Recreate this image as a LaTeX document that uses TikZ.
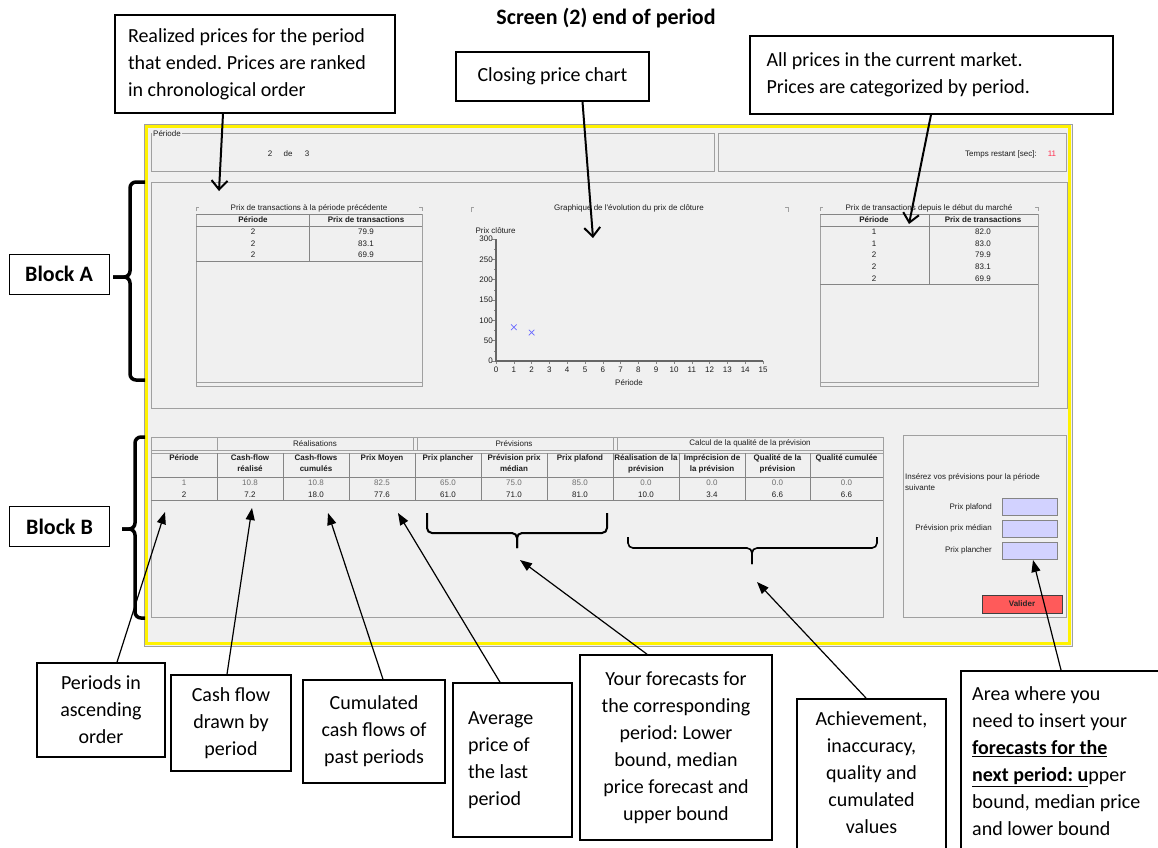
\documentclass[tikz,border=0pt]{standalone}
\usepackage{fontspec}
\setmainfont{Carlito}
\newfontfamily\uifont{Liberation Sans}
\usetikzlibrary{arrows.meta}
\definecolor{uigray}{HTML}{F0F0F0}
\definecolor{uiline}{HTML}{A0A0A0}
\definecolor{uidark}{HTML}{858585}
\definecolor{uitext}{HTML}{1E1E1E}
\definecolor{rowgray}{HTML}{6E6E6E}
\definecolor{fieldblue}{HTML}{D2D2FF}
\definecolor{btnred}{HTML}{FF5A5A}
\definecolor{crossblue}{HTML}{6A6AFF}
\definecolor{timered}{HTML}{FF3050}
\frenchspacing

\begin{document}
\begin{tikzpicture}[x=1pt, y=-1pt,
	callout/.style={draw, line width=1.6pt, font=\fontsize{20}{27}\selectfont, align=flush center, inner sep=0pt},
	callouttext/.style={font=\fontsize{20}{27}\selectfont, inner sep=0pt},
	blocklabel/.style={draw, line width=1pt, font=\bfseries\fontsize{22}{26}\selectfont, minimum width=100pt, minimum height=40pt},
	ui/.style={font=\uifont\fontsize{8}{11}\selectfont, text=uitext, inner sep=0pt},
	uibold/.style={ui, font=\uifont\bfseries\fontsize{8}{11}\selectfont},
	panel/.style={draw=uiline, line width=0.8pt},
	grid/.style={draw=uidark, line width=0.8pt},
	bracket/.style={line width=3.5pt, rounded corners=6pt},
	brace/.style={line width=2pt, rounded corners=5pt},
	pointer/.style={line width=2pt, -{Straight Barb[length=9pt,width=16pt,line width=2pt]}},
	pointerb/.style={line width=1.2pt, -{Triangle[length=12pt,width=9pt]}}]
	\useasboundingbox (0,0) rectangle (1158,847);
	\clip (0,0) rectangle (1158,847);
	\fill[white] (0,0) rectangle (1158,847);

	% the screen
	\draw[fill=uigray, draw=uiline] (144,124) rectangle (1072,646);
	\draw[yellow, line width=3.5pt] (146.5,126.5) rectangle (1069.5,643.5);
	\draw[panel] (151,133) rectangle (714,171);
	\node[ui, fill=uigray, inner xsep=1pt, anchor=west] (periodlabel) at (152,133.5) {Période};
	\node[ui] (periodnow) at (270,154) {2};
	\node[ui] (periodde) at (288,154) {de};
	\node[ui] (periodall) at (307,154) {3};
	\draw[panel] (718,133) rectangle (1066,171);
	\node[ui, anchor=east] (timelabel) at (1037,154) {Temps restant [sec]:};
	\node[ui, text=timered] (timeleft) at (1052,154) {11};
	\draw[panel] (151,182) rectangle (1067,408);

	% prices of the period that ended
	\node[ui] (lasttitle) at (309,208) {Prix de transactions à la période précédente};
	\draw[panel] (196,211) -- (196,207) -- (199,207);
	\draw[panel] (419,207) -- (422,207) -- (422,211);
	\draw[panel] (196,214) rectangle (422,386);
	\draw[panel] (196,382) -- (422,382);
	\draw[grid] (196,214) -- (422,214) (196,226) -- (422,226) (196,261) -- (422,261) (309,214) -- (309,261);
	\node[uibold] at (253,220) {Période};
	\node[uibold] at (366,220) {Prix de transactions};
	\foreach \y/\v in {232/79.9, 243.5/83.1, 255/69.9} {
		\node[ui] at (253,\y) {2};
		\node[ui] at (366,\y) {\v};
	}

	% closing price chart
	\node[ui] (charttitle) at (629,208) {Graphique de l'évolution du prix de clôture};
	\draw[panel] (471,212) -- (471,207) -- (474,207);
	\draw[panel] (785,207) -- (788,207) -- (788,212);
	\node[ui] (ylabel) at (495.5,231) {Prix clôture};
	\foreach \v in {0,50,...,300} {
		\draw[uidark] (492,{361-\v*0.4067}) -- (496,{361-\v*0.4067});
		\node[ui, anchor=east] at (493,{361-\v*0.4067}) {\v};
	}
	\foreach \v in {25,75,...,275}
		\draw[uidark] (494,{361-\v*0.4067}) -- (496,{361-\v*0.4067});
	\foreach \i in {0,...,15} {
		\draw[uidark] ({496+\i*17.8},361) -- ++(0,3);
		\node[ui] at ({496+\i*17.8},369.5) {\i};
	}
	\draw[line width=1.3pt, draw=black!60] (496,239) -- (496,361) -- (763,361);
	\node[ui] (xlabel) at (629,383) {Période};
	\foreach \p/\v in {1/83.0, 2/69.9}
		\draw[crossblue, line width=0.7pt] ({496+\p*17.8-2.8},{361-\v*0.4067-2.8}) -- ++(5.6,5.6)
			({496+\p*17.8-2.8},{361-\v*0.4067+2.8}) -- ++(5.6,-5.6);

	% all prices of the market
	\node[ui] (alltitle) at (929,208) {Prix de transactions depuis le début du marché};
	\draw[panel] (820,211) -- (820,207) -- (823,207);
	\draw[panel] (1035,207) -- (1038,207) -- (1038,211);
	\draw[panel] (820,214) rectangle (1038,386);
	\draw[panel] (820,382) -- (1038,382);
	\draw[grid] (820,214) -- (1038,214) (820,226) -- (1038,226) (820,284) -- (1038,284) (929,214) -- (929,284);
	\node[uibold] at (874,220) {Période};
	\node[uibold] at (983,220) {Prix de transactions};
	\foreach \y/\p/\v in {232/1/82.0, 243.5/1/83.0, 255/2/79.9, 267/2/83.1, 278.5/2/69.9} {
		\node[ui] at (874,\y) {\p};
		\node[ui] at (983,\y) {\v};
	}

	% block B table
	\draw[panel] (151,437) rectangle (883,617);
	\draw[panel] (151,450) -- (883,450) (151,453) -- (883,453);
	\draw[grid] (151,477) -- (883,477) (151,500) -- (883,500);
	\foreach \x in {217,413,417,613,617}
		\draw[panel] (\x,437) -- (\x,450);
	\foreach \x in {217,283,349,415,481,547,613,679,745,810}
		\draw[grid] (\x,453) -- (\x,500);
	\node[ui] (grpreal) at (315,443.5) {Réalisations};
	\node[ui] (grpprev) at (514,443.5) {Prévisions};
	\node[ui] (grpqual) at (750,443.5) {Calcul de la qualité de la prévision};
	\foreach \cx/\txt in {184/Période, 250/{Cash-flow\\réalisé}, 316/{Cash-flows\\cumulés}, 382/{Prix Moyen},
		448/{Prix plancher}, 514/{Prévision prix\\médian}, 580/{Prix plafond}, 646/{Réalisation de la\\prévision},
		712/{Imprécision de\\la prévision}, 777.5/{Qualité de la\\prévision}, 846.5/{Qualité cumulée}}
		\node[uibold, align=center, anchor=north] at (\cx,454) {\txt};
	\foreach \cx/\a/\b in {184/1/2, 250/10.8/7.2, 316/10.8/18.0, 382/82.5/77.6, 448/65.0/61.0, 514/75.0/71.0,
		580/85.0/81.0, 646/0.0/10.0, 712/0.0/3.4, 777.5/0.0/6.6, 846.5/0.0/6.6} {
		\node[ui, text=rowgray] at (\cx,483) {\a};
		\node[ui] at (\cx,494.5) {\b};
	}

	% forecast input
	\draw[panel] (903,435) rectangle (1066,617);
	\node[ui, anchor=west] (asktext) at (905,477) {Insérez vos prévisions pour la période};
	\node[ui, anchor=west] (asknext) at (905,488) {suivante};
	\foreach \y/\txt in {507/Prix plafond, 528.5/Prévision prix médian, 550.5/Prix plancher}
		\node[ui, anchor=east] at (992,\y) {\txt};
	\foreach \y in {498,520,542}
		\draw[draw=uidark, fill=fieldblue] (1002,\y) rectangle ++(55,17);
	\draw[draw=black!75, fill=btnred] (982,595) rectangle (1062,613);
	\node[uibold, text=black!85] (validate) at (1022,604) {Valider};

	% title and callouts
	\node[font=\bfseries\fontsize{22}{26}\selectfont] (title) at (606,18) {Screen (2) end of period};
	\node[callout, align=flush left, text width=254pt, minimum width=280pt, minimum height=98pt] (realized) at (255,64)
		{Realized prices for the period\\that ended. Prices are ranked\\in chronological order};
	\node[callout, minimum width=193pt, minimum height=49pt] (closing) at (552.5,76.5) {Closing price chart};
	\node[callout, align=flush left, text width=330pt, minimum width=363pt, minimum height=78pt] (allprices) at (931.5,75)
		{All prices in the current market.\\Prices are categorized by period.};

	\coordinate (tipRealized) at (219,191);
	\coordinate (tipClosing) at (593,238);
	\coordinate (tipAll) at (909,224);
	\draw[pointer] ([xshift=-32pt]realized.south) -- (tipRealized);
	\draw[pointer] ([xshift=30pt]closing.south) -- (tipClosing);
	\draw[pointer] ([xshift=-0.5pt]allprices.south) -- (tipAll);

	% blocks
	\node[blocklabel] (blockA) at (59,274) {Block A};
	\node[blocklabel] (blockB) at (59.5,526.5) {Block B};
	\draw[bracket] (145,182) -- (130,182) -- (130,277) -- (113,277);
	\draw[bracket] (113,277) -- (130,277) -- (130,380) -- (145,380);
	\draw[bracket] (145,437) -- (135,437) -- (135,529) -- (122,529);
	\draw[bracket] (122,529) -- (135,529) -- (135,618) -- (145,618);
	\draw[brace] (427,513) -- (427,533) -- (517,533) -- (517,548);
	\draw[brace] (607,513) -- (607,533) -- (517,533) -- (517,548);
	\draw[brace, line width=1.6pt] (628,537) -- (628,548) -- (752,548) -- (752,564);
	\draw[brace, line width=1.6pt] (877,537) -- (877,548) -- (752,548) -- (752,564);

	% callouts under the screen
	\node[callout, minimum width=128pt, minimum height=94pt] (periods) at (101,710) {Periods in\\ascending\\order};
	\node[callout, minimum width=120pt, minimum height=96pt] (cashflow) at (231,723) {Cash flow\\drawn by\\period};
	\node[callout, minimum width=142pt, minimum height=103pt] (cumulated) at (374,731.5) {Cumulated\\cash flows of\\past periods};
	\node[callout, align=flush left, text width=89pt, minimum width=119pt, minimum height=154pt] (average) at (512.5,760)
		{Average\\price of\\the last\\period};
	\node[callout, minimum width=192pt, minimum height=185pt] (forecasts) at (676,747.5)
		{Your forecasts for\\the corresponding\\period: Lower\\bound, median\\price forecast and\\upper bound};
	\node[callout, anchor=north, minimum width=149pt, minimum height=180pt] (achieve) at (871.5,698) {};
	\node[callouttext, align=flush center] (achievetext) at (871.5,773) {Achievement,\\inaccuracy,\\quality and\\cumulated\\values};
	\node[callout, anchor=north west, minimum width=230pt, minimum height=200pt] (area) at (960,670) {};
	\node[callouttext, align=flush left, anchor=west] (areatext) at (972,761.5)
		{Area where you\\need to insert your\\\underline{\textbf{forecasts for the}}\\\underline{\textbf{next period: u}}pper\\bound, median price\\and lower bound};

	\coordinate (tipPeriods) at (165,512);
	\coordinate (tipCash) at (252,508);
	\coordinate (tipCumul) at (328,513);
	\coordinate (tipAverage) at (398,513);
	\coordinate (tipForecasts) at (520,560);
	\coordinate (tipAchieve) at (757,582);
	\coordinate (tipArea) at (1033,560);
	\draw[pointerb] ([xshift=16pt]periods.north) -- (tipPeriods);
	\draw[pointerb] ([xshift=-4pt]cashflow.north) -- (tipCash);
	\draw[pointerb] ([xshift=9pt]cumulated.north) -- (tipCumul);
	\draw[pointerb] ([xshift=-12.5pt]average.north) -- (tipAverage);
	\draw[pointerb] ([xshift=-29pt]forecasts.north) -- (tipForecasts);
	\draw[pointerb] ([xshift=-5.5pt]achieve.north) -- (tipAchieve);
	\draw[pointerb] ([xshift=101pt]area.north west) -- (tipArea);
\end{tikzpicture}
\end{document}
